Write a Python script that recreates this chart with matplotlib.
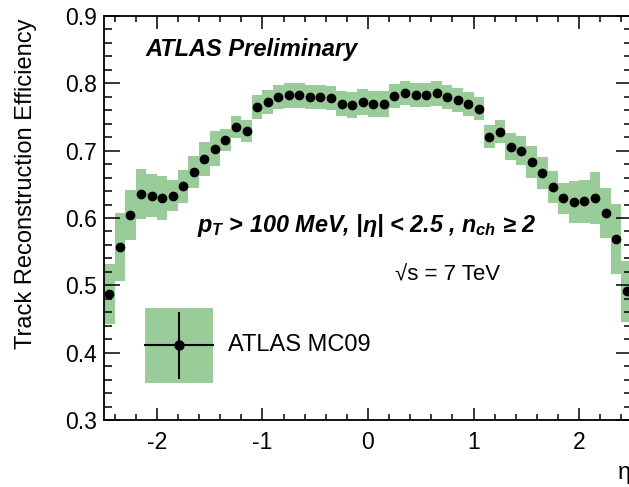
import numpy as np
import matplotlib
matplotlib.use("Agg")
import matplotlib.pyplot as plt
from matplotlib.patches import Rectangle
from matplotlib.lines import Line2D

plt.rcParams['font.family'] = ['Liberation Sans', 'DejaVu Sans']
plt.rcParams['mathtext.fontset'] = 'custom'
plt.rcParams['mathtext.it'] = 'Liberation Sans:italic:bold'
plt.rcParams['mathtext.rm'] = 'Liberation Sans:italic:bold'
plt.rcParams['mathtext.bf'] = 'Liberation Sans:italic:bold'

# bin centres in eta (bins of 0.1 from -2.5 to 2.5)
eta = np.round(np.arange(-2.45, 2.46, 0.1), 2)

efficiency = [
    0.487, 0.557, 0.604, 0.636, 0.633, 0.630, 0.633, 0.647, 0.668, 0.688,
    0.703, 0.716, 0.735, 0.729, 0.765, 0.772, 0.780, 0.782, 0.782, 0.780,
    0.780, 0.778, 0.770, 0.768, 0.772, 0.769, 0.769, 0.781, 0.786, 0.783,
    0.783, 0.785, 0.780, 0.775, 0.769, 0.762, 0.721, 0.728, 0.706, 0.700,
    0.683, 0.667, 0.646, 0.629, 0.624, 0.625, 0.630, 0.608, 0.569, 0.491,
]

# half width of the green systematic band
syst = [
    0.044, 0.051, 0.037, 0.037, 0.032, 0.033, 0.023, 0.024, 0.024, 0.025,
    0.026, 0.016, 0.016, 0.016, 0.018, 0.018, 0.018, 0.018, 0.018, 0.018,
    0.018, 0.018, 0.019, 0.019, 0.019, 0.019, 0.019, 0.018, 0.018, 0.018,
    0.018, 0.018, 0.018, 0.018, 0.018, 0.017, 0.017, 0.017, 0.020, 0.022,
    0.024, 0.024, 0.024, 0.023, 0.031, 0.032, 0.039, 0.037, 0.052, 0.045,
]

green = '#99cc99'


class CrossBoxHandler:
    # green box with an error-bar cross and a dot, like the ROOT legend entry
    def legend_artist(self, legend, orig_handle, fontsize, handlebox):
        x0, y0 = -handlebox.xdescent, -handlebox.ydescent
        w, h = handlebox.width, handlebox.height
        tr = handlebox.get_transform()
        box = Rectangle((x0, y0), w, h, facecolor=green, edgecolor='none',
                        transform=tr)
        cx, cy = x0 + w / 2, y0 + h / 2
        vline = Line2D([cx, cx], [y0 + 0.07 * h, y0 + 0.93 * h],
                       color='black', lw=1.5, transform=tr)
        hline = Line2D([x0, x0 + w], [cy, cy], color='black', lw=1.5,
                       transform=tr)
        dot = Line2D([cx], [cy], marker='o', color='black', markersize=6.5,
                     transform=tr)
        for a in (box, vline, hline, dot):
            handlebox.add_artist(a)
        return box


W, H = 629, 487
fig = plt.figure(figsize=(W / 100.0, H / 100.0), dpi=100)
ax = fig.add_axes([104 / W, 1 - 420 / H, 528 / W, 404 / H])

eff = np.array(efficiency)
err = np.array(syst)
ax.bar(eta, 2 * err, bottom=eff - err, width=0.1, color=green,
       edgecolor='none', linewidth=0, zorder=1)
ax.plot(eta, eff, 'o', color='black', markersize=6, zorder=3)

ax.set_xlim(-2.5, 2.5)
ax.set_ylim(0.3, 0.9)
ax.set_xticks([-2, -1, 0, 1, 2])
ax.set_xticklabels(['-2', '-1', '0', '1', '2'])
ax.set_xticks(np.arange(-2.4, 2.5, 0.2), minor=True)
ax.set_yticks(np.arange(0.3, 0.91, 0.1))
ax.set_yticks(np.arange(0.3, 0.9, 0.02), minor=True)

ax.tick_params(which='both', direction='in', top=True, right=True,
               width=1.1, labelsize=16.5)
ax.tick_params(axis='x', which='major', length=9, pad=8)
ax.tick_params(axis='x', which='minor', length=4.5)
ax.tick_params(axis='y', which='major', length=11.5, pad=5)
ax.tick_params(axis='y', which='minor', length=5.5)
for s in ax.spines.values():
    s.set_linewidth(1.3)

ax.set_ylabel('Track Reconstruction Efficiency', fontsize=17)
ax.yaxis.set_label_coords(-0.127, 0.585)

fig.text(618 / W, 1 - 473 / H, 'η', fontsize=17, ha='left', va='center')

fig.text(145 / W, 1 - 56 / H, 'ATLAS Preliminary', fontsize=17,
         fontweight='bold', fontstyle='italic', ha='left', va='baseline')
fig.text(197 / W, 1 - 232 / H,
         r'$p_{T}$ > 100 MeV, |η| < 2.5 , $n_{ch}$ ≥ 2', fontsize=16.8,
         fontweight='bold', fontstyle='italic', ha='left', va='baseline')
fig.text(395 / W, 1 - 280 / H, '√s = 7 TeV', fontsize=16,
         ha='left', va='baseline')

entry = object()
ax.legend([entry], ['ATLAS MC09'], handler_map={entry: CrossBoxHandler()},
          loc='upper left', bbox_to_anchor=(145 / W, 1 - 308 / H),
          bbox_transform=fig.transFigure, frameon=False, fontsize=17,
          borderpad=0, borderaxespad=0, handlelength=2.9, handleheight=4.5,
          handletextpad=0.6)

fig.savefig('out.png', dpi=100)
